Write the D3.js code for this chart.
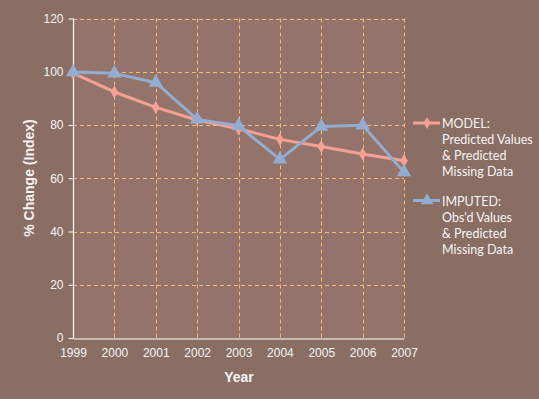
<!DOCTYPE html>
<html>
<head>
<meta charset="utf-8">
<script src="https://cdn.jsdelivr.net/npm/d3@7"></script>
<style>
  body { margin: 0; background: #8a6e64; }
  svg { display: block; }
</style>
</head>
<body>
<div id="chart"></div>
<script>
var years = [1999, 2000, 2001, 2002, 2003, 2004, 2005, 2006, 2007];
var modelVals = [99.5, 92.4, 86.6, 81.9, 78.6, 74.6, 71.9, 69.1, 66.6];
var imputedVals = [99.9, 99.4, 95.9, 82.1, 79.7, 67.1, 79.4, 79.9, 62.3];
var yTicks = [0, 20, 40, 60, 80, 100, 120];
var legendModel = ['MODEL:', 'Predicted Values', '& Predicted', 'Missing Data'];
var legendImputed = ['IMPUTED:', "Obs'd Values", '& Predicted', 'Missing Data'];

var opts = {
    modelColor: '#f4a194',
    imputedColor: '#93acd0',
    gridColor: '#f6bb72',
    textColor: '#f4f4f4'
};

var W = 539, H = 399;
var svg = d3.select('#chart').append('svg').attr('width', W).attr('height', H);

svg.append('rect').attr('width', W).attr('height', H).attr('fill', '#8a6e64');

var x = d3.scalePoint().domain(years).range([73, 404]);
var y = d3.scaleLinear().domain([0, 120]).range([338, 18.5]);

// plot area
svg.append('rect')
    .attr('x', 73).attr('y', 18.5)
    .attr('width', 331).attr('height', 319.5)
    .attr('fill', '#93736a');

// grid
var grid = svg.append('g').attr('stroke', opts.gridColor).attr('stroke-width', 1)
    .attr('stroke-dasharray', '4,3');
grid.selectAll('.h').data(yTicks.filter(function (d) { return d > 0; })).enter().append('line')
    .attr('x1', 73).attr('x2', 404)
    .attr('y1', function (d) { return Math.round(y(d)) + 0.5; })
    .attr('y2', function (d) { return Math.round(y(d)) + 0.5; });
grid.selectAll('.v').data(years.slice(1)).enter().append('line')
    .attr('x1', function (d) { return Math.round(x(d)) + 0.5; })
    .attr('x2', function (d) { return Math.round(x(d)) + 0.5; })
    .attr('y1', 18.5).attr('y2', 338);

// axes
var yAxis = svg.append('g').attr('transform', 'translate(73.5,0)')
    .call(d3.axisLeft(y).tickValues(yTicks).tickSize(5).tickPadding(5));
var xAxis = svg.append('g').attr('transform', 'translate(0,338.5)')
    .call(d3.axisBottom(x).tickSize(0).tickPadding(10));
[yAxis, xAxis].forEach(function (a) {
    a.select('.domain').attr('stroke', '#ffffff').attr('stroke-width', 1.2);
    a.selectAll('.tick line').attr('stroke', '#ffffff');
    a.selectAll('text').attr('fill', opts.textColor)
        .style('font-family', 'Liberation Sans, Arial, sans-serif').style('font-size', '12px');
});
yAxis.select('.domain').attr('d', 'M0,18.5V338');

// axis titles
svg.append('text').attr('x', 239).attr('y', 382).attr('text-anchor', 'middle')
    .attr('fill', opts.textColor)
    .style('font-family', 'Liberation Sans, Arial, sans-serif')
    .style('font-size', '14px').style('font-weight', 'bold').text('Year');
svg.append('text').attr('transform', 'translate(34,178) rotate(-90)').attr('text-anchor', 'middle')
    .attr('fill', opts.textColor)
    .style('font-family', 'Liberation Sans, Arial, sans-serif')
    .style('font-size', '14px').style('font-weight', 'bold').text('% Change (Index)');

var line = d3.line().x(function (d) { return x(d[0]); }).y(function (d) { return y(d[1]); });

function drawSeries(vals, color, symbol, size) {
    var data = years.map(function (yr, i) { return [yr, vals[i]]; });
    svg.append('path').datum(data).attr('d', line)
        .attr('fill', 'none').attr('stroke', color).attr('stroke-width', 3)
        .attr('stroke-linejoin', 'round');
    svg.selectAll(null).data(data).enter().append('path')
        .attr('d', d3.symbol().type(symbol).size(size))
        .attr('transform', function (d) { return 'translate(' + x(d[0]) + ',' + y(d[1]) + ')'; })
        .attr('fill', color);
}

drawSeries(modelVals, opts.modelColor, d3.symbolDiamond, 50);
drawSeries(imputedVals, opts.imputedColor, d3.symbolTriangle, 90);

// legend
function legend(lines, color, symbol, size, top) {
    var g = svg.append('g');
    g.append('line').attr('x1', 413).attr('x2', 440).attr('y1', top).attr('y2', top)
        .attr('stroke', color).attr('stroke-width', 3);
    g.append('path').attr('d', d3.symbol().type(symbol).size(size))
        .attr('transform', 'translate(427,' + top + ')').attr('fill', color);
    g.selectAll('text').data(lines).enter().append('text')
        .attr('x', 442).attr('y', function (d, i) { return top + 5 + i * 16; })
        .attr('fill', opts.textColor)
        .style('font-family', 'Lato, Open Sans, sans-serif').style('font-size', '12.5px')
        .text(function (d) { return d; });
}
legend(legendModel, opts.modelColor, d3.symbolDiamond, 40, 123);
legend(legendImputed, opts.imputedColor, d3.symbolTriangle, 70, 200.5);
</script>
</body>
</html>
